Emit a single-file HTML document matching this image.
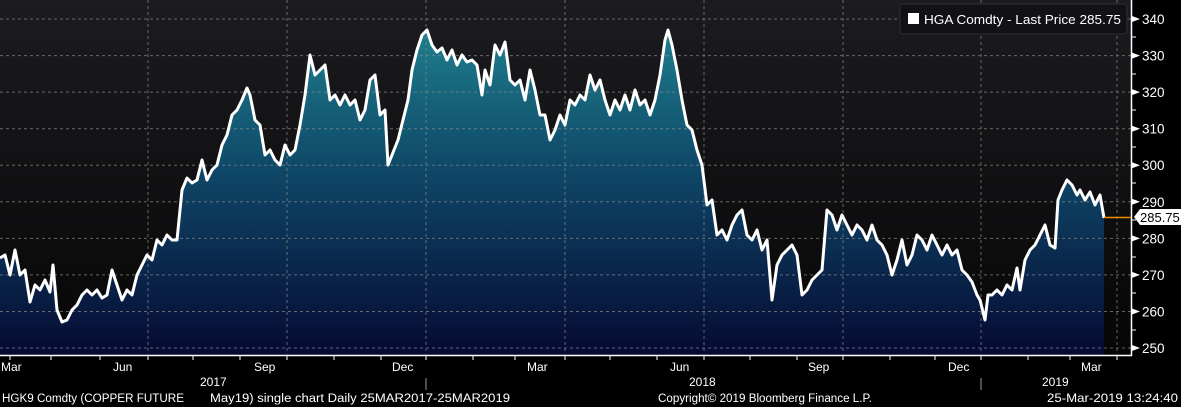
<!DOCTYPE html>
<html><head><meta charset="utf-8"><style>
html,body{margin:0;padding:0;background:#000;}
svg{display:block;font-family:"Liberation Sans",sans-serif;}
</style></head><body>
<svg width="1181" height="407" viewBox="0 0 1181 407" xmlns="http://www.w3.org/2000/svg">
<defs>
<linearGradient id="bg" x1="0" y1="0" x2="0" y2="1">
<stop offset="0" stop-color="#1c1c20"/><stop offset="1" stop-color="#060606"/>
</linearGradient>
<linearGradient id="fill" gradientUnits="userSpaceOnUse" x1="0" y1="30" x2="0" y2="355">
<stop offset="0" stop-color="#1e7e8c"/><stop offset="0.45" stop-color="#0e4566"/><stop offset="1" stop-color="#060a32"/>
</linearGradient>
</defs>
<rect x="0" y="0" width="1181" height="407" fill="#000"/>
<rect x="0" y="0" width="1131" height="355" fill="url(#bg)"/>
<path fill="url(#fill)" d="M0,355 L0,258 5,255 10,275 15,250 20,275 25,270 30,302 35,285 40,290 45,280 50,292 53,265 57,310 62,322 67,320 72,310 77,305 82,295 87,290 92,295 97,290 102,298 107,295 112,270 117,285 122,300 127,290 132,295 137,275 142,265 147,255 152,260 157,240 162,245 167,235 172,240 177,240 182,190 187,178 192,183 197,180 202,160 207,180 212,170 217,165 222,145 227,135 232,115 237,110 242,100 247,88 250,95 255,120 260,125 265,155 270,150 275,160 280,165 285,145 290,155 295,150 300,125 305,95 310,55 315,75 320,70 325,65 330,100 335,95 340,105 345,95 350,105 355,100 360,120 365,110 370,80 375,75 380,115 385,110 388,165 392,155 398,140 403,120 408,100 412,70 417,50 422,35 427,30 432,45 437,52 442,48 447,60 452,50 457,65 462,55 467,62 472,60 477,65 482,95 485,70 490,85 495,45 500,55 505,42 510,80 515,85 520,80 525,100 530,70 535,90 540,115 545,115 550,140 555,130 560,115 565,125 570,100 575,105 580,95 585,100 590,75 595,90 600,80 605,100 610,115 615,100 620,110 625,95 630,110 635,90 640,105 645,100 650,115 655,100 660,75 665,40 668,30 672,45 677,70 682,100 687,125 692,130 697,150 702,165 707,205 712,200 717,235 722,230 727,240 732,225 737,215 742,210 747,235 752,240 757,230 762,250 767,240 772,300 777,265 782,255 787,250 792,245 797,255 802,295 807,290 812,280 817,275 822,270 827,210 832,215 837,230 842,215 847,225 852,235 857,225 862,230 867,240 872,225 877,240 882,245 887,255 892,275 897,260 902,240 907,265 912,255 917,235 922,240 927,250 932,235 937,245 942,255 947,245 952,255 957,250 962,270 967,275 972,282 977,295 980,300 985,320 988,295 992,295 997,290 1002,295 1007,285 1012,290 1017,268 1020,290 1025,260 1030,250 1035,245 1040,235 1045,225 1050,245 1055,248 1058,200 1062,190 1067,180 1072,185 1077,195 1080,190 1085,200 1090,192 1095,205 1100,195 1104,218 L1104,355 Z"/>
<g stroke="#8a8a8a" stroke-width="1" stroke-dasharray="3,3" opacity="0.7">
<line x1="0" y1="19" x2="1131" y2="19"/><line x1="0" y1="55.6" x2="1131" y2="55.6"/>
<line x1="0" y1="92.1" x2="1131" y2="92.1"/><line x1="0" y1="128.7" x2="1131" y2="128.7"/>
<line x1="0" y1="165.2" x2="1131" y2="165.2"/><line x1="0" y1="201.8" x2="1131" y2="201.8"/>
<line x1="0" y1="238.4" x2="1131" y2="238.4"/><line x1="0" y1="274.9" x2="1131" y2="274.9"/>
<line x1="0" y1="311.5" x2="1131" y2="311.5"/><line x1="0" y1="348" x2="1131" y2="348"/>
<line x1="148" y1="0" x2="148" y2="355"/><line x1="287" y1="0" x2="287" y2="355"/>
<line x1="426" y1="0" x2="426" y2="355"/><line x1="565" y1="0" x2="565" y2="355"/>
<line x1="704" y1="0" x2="704" y2="355"/><line x1="843" y1="0" x2="843" y2="355"/>
<line x1="981" y1="0" x2="981" y2="355"/><line x1="1117" y1="0" x2="1117" y2="355"/>
</g>
<polyline fill="none" stroke="#fff" stroke-width="3" stroke-linejoin="round" points="0,258 5,255 10,275 15,250 20,275 25,270 30,302 35,285 40,290 45,280 50,292 53,265 57,310 62,322 67,320 72,310 77,305 82,295 87,290 92,295 97,290 102,298 107,295 112,270 117,285 122,300 127,290 132,295 137,275 142,265 147,255 152,260 157,240 162,245 167,235 172,240 177,240 182,190 187,178 192,183 197,180 202,160 207,180 212,170 217,165 222,145 227,135 232,115 237,110 242,100 247,88 250,95 255,120 260,125 265,155 270,150 275,160 280,165 285,145 290,155 295,150 300,125 305,95 310,55 315,75 320,70 325,65 330,100 335,95 340,105 345,95 350,105 355,100 360,120 365,110 370,80 375,75 380,115 385,110 388,165 392,155 398,140 403,120 408,100 412,70 417,50 422,35 427,30 432,45 437,52 442,48 447,60 452,50 457,65 462,55 467,62 472,60 477,65 482,95 485,70 490,85 495,45 500,55 505,42 510,80 515,85 520,80 525,100 530,70 535,90 540,115 545,115 550,140 555,130 560,115 565,125 570,100 575,105 580,95 585,100 590,75 595,90 600,80 605,100 610,115 615,100 620,110 625,95 630,110 635,90 640,105 645,100 650,115 655,100 660,75 665,40 668,30 672,45 677,70 682,100 687,125 692,130 697,150 702,165 707,205 712,200 717,235 722,230 727,240 732,225 737,215 742,210 747,235 752,240 757,230 762,250 767,240 772,300 777,265 782,255 787,250 792,245 797,255 802,295 807,290 812,280 817,275 822,270 827,210 832,215 837,230 842,215 847,225 852,235 857,225 862,230 867,240 872,225 877,240 882,245 887,255 892,275 897,260 902,240 907,265 912,255 917,235 922,240 927,250 932,235 937,245 942,255 947,245 952,255 957,250 962,270 967,275 972,282 977,295 980,300 985,320 988,295 992,295 997,290 1002,295 1007,285 1012,290 1017,268 1020,290 1025,260 1030,250 1035,245 1040,235 1045,225 1050,245 1055,248 1058,200 1062,190 1067,180 1072,185 1077,195 1080,190 1085,200 1090,192 1095,205 1100,195 1104,218"/>
<line x1="1131.5" y1="0" x2="1131.5" y2="356" stroke="#fff" stroke-width="1.5"/>
<line x1="0" y1="355.5" x2="1132" y2="355.5" stroke="#fff" stroke-width="1.5"/>
<g fill="#fff" font-size="13.5">
<text x="1142" y="24">340</text><text x="1142" y="60.6">330</text><text x="1142" y="97.1">320</text>
<text x="1142" y="133.7">310</text><text x="1142" y="170.2">300</text><text x="1142" y="206.8">290</text>
<text x="1142" y="243.4">280</text><text x="1142" y="279.9">270</text><text x="1142" y="316.5">260</text>
<text x="1142" y="353">250</text>
</g>
<g fill="#fff">
<path d="M1132,16 l8,3 l-8,3z M1132,52.6 l8,3 l-8,3z M1132,89.1 l8,3 l-8,3z M1132,125.7 l8,3 l-8,3z M1132,162.2 l8,3 l-8,3z M1132,198.8 l8,3 l-8,3z M1132,235.4 l8,3 l-8,3z M1132,271.9 l8,3 l-8,3z M1132,308.5 l8,3 l-8,3z M1132,345 l8,3 l-8,3z"/>
</g>
<g stroke="#fff" stroke-width="1">
<line x1="1131" y1="37" x2="1136" y2="37"/><line x1="1131" y1="74" x2="1136" y2="74"/><line x1="1131" y1="110" x2="1136" y2="110"/><line x1="1131" y1="147" x2="1136" y2="147"/><line x1="1131" y1="183" x2="1136" y2="183"/><line x1="1131" y1="220" x2="1136" y2="220"/><line x1="1131" y1="257" x2="1136" y2="257"/><line x1="1131" y1="293" x2="1136" y2="293"/><line x1="1131" y1="330" x2="1136" y2="330"/>
<line x1="10" y1="355" x2="10" y2="360"/><line x1="51" y1="355" x2="51" y2="360"/><line x1="100" y1="355" x2="100" y2="360"/><line x1="148" y1="355" x2="148" y2="360"/><line x1="193" y1="355" x2="193" y2="360"/><line x1="240" y1="355" x2="240" y2="360"/><line x1="287" y1="355" x2="287" y2="360"/><line x1="334" y1="355" x2="334" y2="360"/><line x1="381" y1="355" x2="381" y2="360"/><line x1="426" y1="355" x2="426" y2="360"/><line x1="473" y1="355" x2="473" y2="360"/><line x1="515" y1="355" x2="515" y2="360"/><line x1="565" y1="355" x2="565" y2="360"/><line x1="610" y1="355" x2="610" y2="360"/><line x1="657" y1="355" x2="657" y2="360"/><line x1="704" y1="355" x2="704" y2="360"/><line x1="750" y1="355" x2="750" y2="360"/><line x1="797" y1="355" x2="797" y2="360"/><line x1="843" y1="355" x2="843" y2="360"/><line x1="890" y1="355" x2="890" y2="360"/><line x1="935" y1="355" x2="935" y2="360"/><line x1="981" y1="355" x2="981" y2="360"/><line x1="1028" y1="355" x2="1028" y2="360"/><line x1="1070" y1="355" x2="1070" y2="360"/><line x1="1117" y1="355" x2="1117" y2="360"/>
</g>
<g stroke="#999" stroke-width="1"><line x1="426" y1="378" x2="426" y2="390"/><line x1="981" y1="378" x2="981" y2="390"/></g>
<g fill="#fff" font-size="12">
<text x="1" y="371">Mar</text><text x="113" y="371">Jun</text><text x="254" y="371">Sep</text><text x="392" y="371">Dec</text><text x="527" y="371">Mar</text>
<text x="670" y="371">Jun</text><text x="808" y="371">Sep</text><text x="948" y="371">Dec</text><text x="1081" y="371">Mar</text>
<text x="200" y="386">2017</text><text x="689" y="386">2018</text><text x="1042" y="386">2019</text>
<text x="2" y="402" font-size="11.5" textLength="182" lengthAdjust="spacingAndGlyphs">HGK9 Comdty (COPPER FUTURE</text>
<text x="210" y="402" font-size="11.5" textLength="300" lengthAdjust="spacingAndGlyphs">May19) single chart  Daily 25MAR2017-25MAR2019</text>
<text x="658" y="402" font-size="11.5" textLength="214" lengthAdjust="spacingAndGlyphs">Copyright© 2019 Bloomberg Finance L.P.</text>
<text x="1047" y="402" font-size="12" textLength="131" lengthAdjust="spacingAndGlyphs">25-Mar-2019 13:24:40</text>
</g>
<line x1="1104" y1="217.5" x2="1131" y2="217.5" stroke="#f08a00" stroke-width="1.5"/>
<path d="M1134,217 l6,-8 h41 v16 h-41z" fill="#fff"/>
<text x="1140" y="222" font-size="13" fill="#000">285.75</text>
<rect x="900" y="4" width="227" height="30" rx="3" fill="#121216" stroke="#2e2e34"/>
<rect x="908" y="13" width="11" height="11" fill="#fff"/>
<text x="924" y="24" font-size="12.5" fill="#fff" textLength="197" lengthAdjust="spacingAndGlyphs">HGA Comdty - Last Price 285.75</text>
</svg>
</body></html>
